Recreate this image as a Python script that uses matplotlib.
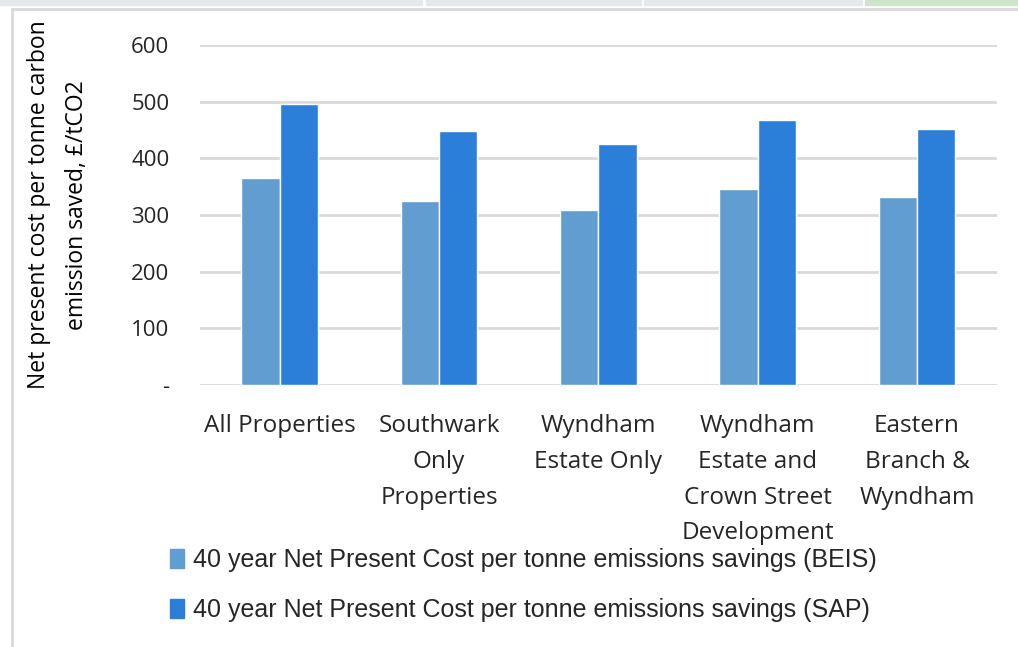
import matplotlib
matplotlib.use("Agg")
import matplotlib.pyplot as plt
import matplotlib.patches as mpatches
from matplotlib.lines import Line2D
import numpy as np

# chart data
categories = ["All Properties", "Southwark\nOnly\nProperties", "Wyndham\nEstate Only",
              "Wyndham\nEstate and\nCrown Street\nDevelopment", "Eastern\nBranch &\nWyndham"]
beis = [365, 325, 309, 346, 332]
sap = [496, 448, 425, 468, 452]
series_names = ["40 year Net Present Cost per tonne emissions savings (BEIS)",
                "40 year Net Present Cost per tonne emissions savings (SAP)"]
yticks = [0, 100, 200, 300, 400, 500, 600]
ytick_labels = ["-", "100", "200", "300", "400", "500", "600"]

c_beis = "#619dd0"
c_sap = "#2b7fd8"
font = ["Open Sans", "DejaVu Sans"]
legfont = ["Liberation Sans", "DejaVu Sans"]

fig = plt.figure(figsize=(10.18, 6.47), dpi=100)
ax = fig.add_axes([0.1965, 0.405, 0.7825, 0.5255])

x = np.arange(len(categories))
w = 0.24
ax.bar(x - w / 2, beis, w, color=c_beis, edgecolor="white", linewidth=1, zorder=3)
ax.bar(x + w / 2, sap, w, color=c_sap, edgecolor="white", linewidth=1, zorder=3)

ax.set_xlim(-0.5, len(categories) - 0.5)
ax.set_ylim(0, 600)
ax.set_yticks(yticks)
ax.set_yticklabels(ytick_labels, fontsize=16, family=font, color="#262626")
ax.set_xticks(x)
ax.set_xticklabels(categories, fontsize=17.5, family=font, color="#262626", linespacing=1.65)
ax.tick_params(axis="y", length=0, pad=22)
ax.tick_params(axis="x", length=0, pad=21)
ax.grid(axis="y", color="#d9d9d9", linewidth=2, zorder=0)
for s in ax.spines.values():
    s.set_visible(False)

fig.text(0.057, 0.683, "Net present cost per tonne carbon\nemission saved, \u00a3/tCO2",
         rotation=90, ha="center", va="center", fontsize=16.5, family=font,
         color="black", linespacing=1.8)

# legend below the plot
handles = [mpatches.Patch(color=c_beis), mpatches.Patch(color=c_sap)]
leg = fig.legend(handles, series_names, loc="upper left", bbox_to_anchor=(0.155, 0.172),
                 frameon=False, prop={"family": legfont, "size": 18}, handlelength=0.55,
                 handleheight=0.8, handletextpad=0.35, labelspacing=1.05, borderpad=0)
for t in leg.get_texts():
    t.set_color("#262626")

# screenshot frame bits
fig.add_artist(Line2D([0.012, 1.0], [0.986, 0.986], color="#d9d9d9", lw=2))
fig.add_artist(Line2D([0.012, 0.012], [0.0, 0.986], color="#d9d9d9", lw=2))
for x0, x1, col in [(0.0, 0.415, "#e7e8ec"), (0.418, 0.630, "#e7e8ec"),
                    (0.633, 0.847, "#e7e8ec"), (0.850, 1.0, "#cde5c9")]:
    fig.add_artist(mpatches.Rectangle((x0, 0.992), x1 - x0, 0.008, color=col,
                                      transform=fig.transFigure))

fig.savefig("out.png", dpi=100, facecolor="white")
